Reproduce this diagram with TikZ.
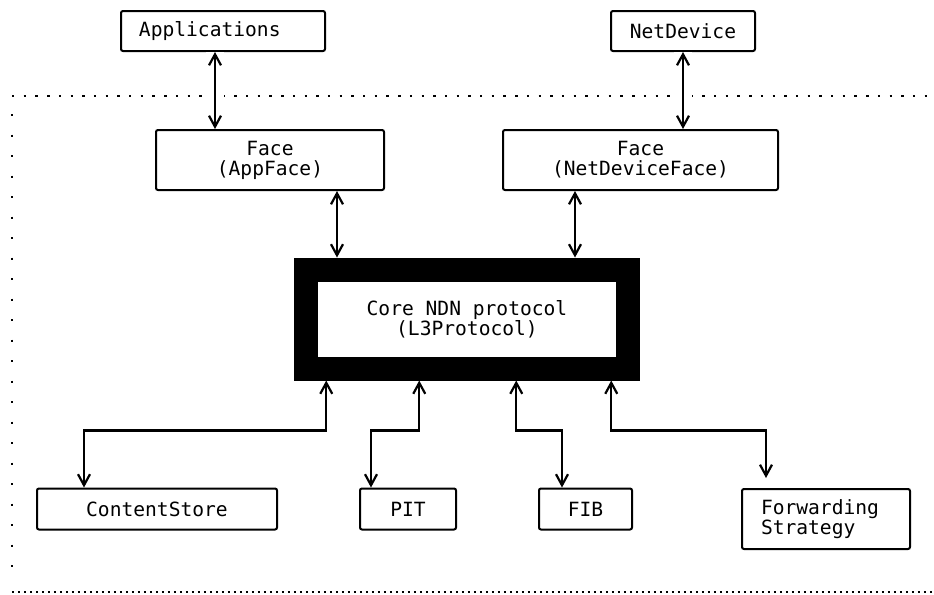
\documentclass[tikz,border=0pt]{standalone}
\usepackage{fontspec}
\setmonofont{DejaVu Sans Mono}
\usetikzlibrary{arrows.meta,positioning}

\begin{document}
\begin{tikzpicture}[x=0.5pt,y=-0.5pt,>={Straight Barb[length=5.5pt,width=6pt]},
  block/.style={draw,line width=1pt,rounded corners=1pt,inner sep=0pt,align=center,
    font=\ttfamily\fontsize{9.8}{10}\selectfont},
  core/.style={block,line width=12pt,rounded corners=0pt},
  link/.style={<->,line width=1.1pt},
  gap/.style={preaction={draw=white,line width=9pt,-}},
  dots/.style={line width=1.2pt}]
  \useasboundingbox (0,0) rectangle (934,595);

  % outer frame (open on the right)
  \draw[dots,dash pattern=on 1.2pt off 4.65pt] (12,96) -- (940,96);
  \draw[dots,dash pattern=on 1.2pt off 9.05pt] (12,114) -- (12,585);
  \draw[dots,dash pattern=on 1.2pt off 1.8pt] (12,592) -- (940,592);

  \node[block,inner xsep=9pt,text width=84pt,align=left,minimum height=20pt] (app) at (223,31) {Applications};
  \node[block,minimum width=72pt,minimum height=20pt] (netdev) at (683,31) {NetDevice};
  \node[block,minimum width=114pt,minimum height=30pt] (appface) at (270,160) {Face\\(AppFace)};
  \node[block,minimum width=137.5pt,minimum height=30pt] (ndface) at (640.5,160) {Face\\(NetDeviceFace)};
  \node[core,minimum width=160.75pt,minimum height=49.5pt] (l3) at (467,319) {Core NDN protocol\\(L3Protocol)};
  \node[block,minimum width=120pt,minimum height=20.5pt] (cs) at (157,509) {ContentStore};
  \node[block,minimum width=48pt,minimum height=20.5pt] (pit) at (408,509) {PIT};
  \node[block,minimum width=46.5pt,minimum height=20.5pt] (fib) at (585.5,509) {FIB};
  \node[block,inner xsep=9.5pt,text width=65pt,align=left,minimum height=30pt] (fs) at (826,519) {Forwarding\\Strategy};

  \draw[link,gap] ([xshift=-4pt]app.south) -- ([xshift=-4pt]app.south |- appface.north);
  \draw[link,gap] (netdev.south) -- (netdev.south |- ndface.north);
  \draw[link] ([xshift=33.5pt]appface.south) -- ([xshift=33.5pt]appface.south |- l3.north);
  \draw[link] ([xshift=-32.75pt]ndface.south) -- ([xshift=-32.75pt]ndface.south |- l3.north);

  \draw[link] ([xshift=16pt]l3.south west) -- ++(0,50) -| ([xshift=24pt]cs.north west);
  \draw[link] ([xshift=62.5pt]l3.south west) -- ++(0,50) -| ([xshift=6pt]pit.north west);
  \draw[link] ([xshift=111pt]l3.south west) -- ++(0,50) -| ([xshift=12pt]fib.north west);
  \draw[link] ([xshift=158.5pt]l3.south west) -- ++(0,50) -| ([xshift=12.5pt,yshift=5pt]fs.north west);
\end{tikzpicture}
\end{document}
